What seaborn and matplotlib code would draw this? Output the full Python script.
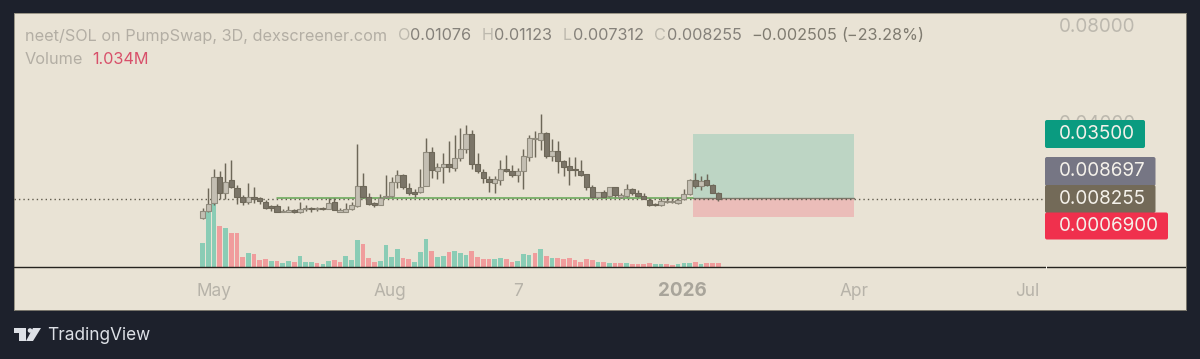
import numpy as np
import pandas as pd
import matplotlib
matplotlib.use("Agg")
import matplotlib.pyplot as plt
import matplotlib.dates as mdates
from matplotlib.patches import Rectangle, Polygon, FancyBboxPatch, Circle
from matplotlib.transforms import IdentityTransform
import seaborn as sns

# ---- data (prices in thousandths of SOL, volume in millions) ----
first_date = "2025-04-25"
open_m = [0.32,3.32,6.47,17.45,10.59,16.08,12.65,8.94,7.16,9.22,8.67,7.16,5.24,5.38,3.05,3.05,3.59,3.05,4.14,4.42,4.14,4.42,4.14,7.02,2.91,3.05,4.28,5.38,13.61,9.22,6.47,5.94,8.94,9.49,15.39,18.27,12.65,11.28,11.28,13.61,27.60,19.92,21.43,22.52,21.15,25.27,28.83,34.87,22.52,19.51,16.49,14.98,16.08,20.61,19.78,18.13,19.92,25.68,32.95,32.54,35.56,25.95,28.15,23.76,21.84,20.47,19.78,18.41,13.33,8.94,11.00,9.63,13.06,8.94,9.49,12.24,10.86,9.49,7.85,6.34,5.79,7.16,7.16,6.47,8.12,10.18,16.08,13.61,16.08,14.02,10.76]
close_m = [3.46,6.20,17.45,10.59,15.39,13.06,9.22,7.16,8.94,8.12,7.43,4.69,4.42,2.91,3.46,3.59,2.77,4.01,4.69,4.14,4.42,4.14,6.75,3.73,3.87,4.01,5.65,13.61,8.94,6.20,5.94,8.53,9.49,15.25,18.27,13.06,10.59,10.18,13.33,27.60,20.19,21.56,22.52,21.56,25.27,28.83,34.87,22.52,19.78,16.76,15.12,16.35,20.61,19.92,18.13,19.78,25.95,33.22,33.50,35.56,25.95,28.15,23.76,21.56,20.19,20.19,18.27,13.33,8.94,11.00,9.22,13.06,9.90,9.90,12.24,10.59,9.49,8.12,5.65,5.79,7.30,7.43,7.43,7.85,10.18,16.08,13.61,15.80,14.02,10.86,8.255]
high_m = [4.42,12.65,20.47,19.92,22.93,24.31,14.02,9.90,14.70,13.33,8.94,7.85,5.79,6.20,4.01,5.38,4.01,7.16,5.65,5.10,5.10,4.83,8.53,8.53,4.42,6.75,7.16,30.89,18.82,10.59,7.16,10.18,18.27,17.17,20.19,18.55,14.98,12.24,20.47,33.22,29.52,23.21,27.32,32.26,34.59,37.34,38.71,36.65,27.05,20.47,17.72,17.72,24.31,26.36,22.25,20.88,28.70,34.59,36.24,43.24,35.69,32.81,32.13,24.31,25.40,25.40,24.31,18.55,14.02,11.28,11.96,13.33,13.33,10.59,14.43,12.65,11.96,10.59,8.53,6.75,8.53,8.94,8.53,8.53,12.24,16.35,19.10,17.72,18.55,14.43,11.23]
low_m = [0.05,3.05,5.79,8.12,8.12,12.65,6.20,5.79,6.20,6.47,6.20,4.28,3.46,2.77,2.77,2.77,2.36,2.63,3.32,3.05,3.32,3.73,4.01,3.59,2.77,2.77,3.73,5.10,8.53,5.79,5.10,5.79,8.53,8.94,12.65,12.24,9.90,9.22,10.86,13.61,16.76,16.63,14.98,19.51,19.92,24.03,27.05,20.47,19.10,14.70,11.28,10.86,14.02,19.51,17.17,15.39,12.24,24.03,25.40,28.42,25.00,23.89,19.10,17.72,14.02,17.72,17.72,11.96,8.94,8.81,8.94,9.22,9.22,8.53,8.94,9.90,8.94,8.12,5.38,5.38,5.51,6.75,6.47,6.20,7.85,9.90,12.65,11.96,13.61,10.59,7.31]
volume_m = [7.0,16.8,18.8,12.3,11.6,10.0,10.0,3.0,4.0,3.9,2.1,2.3,1.7,1.8,1.1,1.7,1.5,3.2,1.5,1.3,1.1,0.9,1.8,1.9,1.5,3.1,2.0,8.1,6.8,2.7,1.5,1.8,6.5,2.8,5.2,2.6,2.2,1.3,4.4,8.3,4.6,2.8,3.3,4.4,4.8,4.0,3.6,4.8,3.0,2.4,2.4,2.3,2.6,2.2,1.5,1.7,3.8,3.6,4.0,5.2,3.2,2.7,2.7,2.2,2.6,2.0,1.5,2.4,2.0,1.5,1.3,1.1,1.2,1.2,1.1,0.9,0.7,0.7,1.1,0.7,0.7,0.7,0.6,0.7,1.2,1.2,1.4,0.8,1.0,1.0,1.034]
volume_side = list("GGGRGRRRGRRRGRGGRGGGRGGRRGGGRRRGGGGRRGGGRGGRGGGRRRRGGRRGGGRGRGRRRRRRRGRGRRGRRRRGGRRGGGRGRRR")
tick_dates = ["2025-05-01", "2025-08-01", "2025-10-07", "2026-01-01", "2026-04-01", "2026-07-01"]
tick_texts = ["May", "Aug", "7", "2026", "Apr", "Jul"]
y_ticks = [0.08, 0.04]
take_profit, entry, stop, last_price = 0.035, 0.008697, 0.00069, 0.008255
box_start, box_end = "2026-01-07", "2026-04-01"
level_start = "2025-06-03"

BG = "#1d212c"
PANEL = "#e9e3d5"
W, H = 1200, 359
FONT = ["Inter", "DejaVu Sans"]

sns.set_theme(style="white")
plt.rcParams["font.family"] = FONT

n = len(open_m)
dates = pd.date_range(first_date, periods=n, freq="3D")
df = pd.DataFrame({
    "num": mdates.date2num(dates),
    "open": np.array(open_m) * 1e-3, "close": np.array(close_m) * 1e-3,
    "high": np.array(high_m) * 1e-3, "low": np.array(low_m) * 1e-3,
    "volume": volume_m, "side": volume_side[:n],
})

fig = plt.figure(figsize=(W / 100, H / 100), dpi=100, facecolor=BG)
L, R, T, B = 14, 1186, 13, 310
rect = [L / W, 1 - B / H, (R - L) / W, (B - T) / H]
ax_v = fig.add_axes(rect, zorder=1, facecolor=PANEL)
ax = fig.add_axes(rect, zorder=2, facecolor="none")

d0 = mdates.date2num(pd.Timestamp("2025-05-01"))
xlim = (d0 - 104.7, d0 + 508.9)

# volume pane
sns.barplot(data=df, x="num", y="volume", hue="side", hue_order=["G", "R"],
            palette={"G": "#8accb5", "R": "#f09c9c"}, native_scale=True, dodge=False,
            width=0.82, errorbar=None, legend=False, ax=ax_v, linewidth=0, saturation=1)
ax_v.set_xlim(xlim)
ax_v.set_ylim(-13.05, 76.1)
ax_v.set_xlabel(""); ax_v.set_ylabel("")
ax_v.set_xticks([]); ax_v.set_yticks([])
ax_v.axhline(0, color="#26241f", lw=1.0, zorder=6)
for s in ax_v.spines.values():
    s.set_color("#8a8678"); s.set_linewidth(0.6)

# position box
b0, b1 = mdates.date2num(pd.Timestamp(box_start)), mdates.date2num(pd.Timestamp(box_end))
ax.add_patch(Rectangle((b0, entry), b1 - b0, take_profit - entry, fc="#bdd5c4", ec="none", zorder=1))
ax.add_patch(Rectangle((b0, stop), b1 - b0, entry - stop, fc="#ebbdb9", ec="none", zorder=1))
ax.plot([b0, b1], [entry, entry], color="#7d796b", lw=1.0, zorder=1.5)
ax.plot([mdates.date2num(pd.Timestamp(level_start)), b0], [entry, entry], color="#62a653", lw=1.1, zorder=1.5)
ax.plot([xlim[0], d0 + 434], [last_price, last_price], color="#5f5a4c", lw=1.0, ls=(0, (1, 2.2)), zorder=1.6)

# candles
up = df["close"] >= df["open"]
ax.vlines(df["num"], df["low"], df["high"], color="#6d6758", lw=1.05, zorder=3)
lo = df[["open", "close"]].min(axis=1)
hi = df[["open", "close"]].max(axis=1)
ax.bar(df["num"][up], (hi - lo)[up], bottom=lo[up], width=2.75, color="#c4bfb3", edgecolor="#908b7d", linewidth=0.8, zorder=4)
ax.bar(df["num"][~up], (hi - lo)[~up], bottom=lo[~up], width=2.75, color="#7b7568", edgecolor="#6d6758", linewidth=0.8, zorder=4)

ax.set_xlim(xlim)
k = 0.0004115
ax.set_ylim(last_price - (B - 199) * k, last_price + (199 - T) * k)
ax.set_xticks([mdates.date2num(pd.Timestamp(d)) for d in tick_dates], tick_texts)
ax.tick_params(axis="x", length=0, pad=-13.5, labelsize=12.4, labelcolor="#b7b3a9")
for lab, txt in zip(ax.get_xticklabels(), tick_texts):
    lab.set_va("center")
    if txt == "2026":
        lab.set_fontweight("bold"); lab.set_color("#a9a59b"); lab.set_fontsize(13.6)
ax.yaxis.tick_right()
ax.set_yticks(y_ticks, ["0.08000", "0.04000"])
ax.tick_params(axis="y", length=0, pad=-91.5, labelsize=13.6, labelcolor="#bcb8ae")
for s in ax.spines.values():
    s.set_visible(False)
ax.grid(False)

# price tags and texts, placed in figure pixels
def px_rect(x0, y0, x1, y1, color, z=5):
    fig.add_artist(FancyBboxPatch((x0, H - y1), x1 - x0, y1 - y0, boxstyle="round,pad=0,rounding_size=2",
                                  fc=color, ec="none", transform=IdentityTransform(), zorder=z))

def px_text(x, y, s, color, size, weight="normal", z=7):
    return fig.text(x / W, 1 - y / H, s, color=color, fontsize=size, fontweight=weight, va="center", ha="left", zorder=z)

fig_tags = [(120, 148, 1145, "#0a9b80", "0.03500"), (157, 186, 1155.5, "#767684", "0.008697"),
            (185, 213, 1155.5, "#736a58", "0.008255"), (212.5, 239.5, 1168, "#f0304d", "0.0006900")]
for y0, y1, x1, c, s in fig_tags:
    px_rect(1045, y0, x1, y1, c)
    px_text(1059, (y0 + y1) / 2, s, "#f4f1ea", 13.6)
fig.add_artist(Rectangle((1045.5, H - 269), 1, 3, fc="#f5f1e8", ec="none", transform=IdentityTransform(), zorder=6))

# header
grey = "#b3aea4"
px_text(25, 36, "neet/SOL on PumpSwap, 3D, dexscreener.com", grey, 11.7)
vals = [(398, 410, "O", "0.01076"), (482, 494, "H", "0.01123"), (563, 573, "L", "0.007312"), (654, 667, "C", "0.008255")]
for xa, xv, a, v in vals:
    px_text(xa, 36, a, "#bdb9ae", 11.7)
    px_text(xv, 36, v, "#85817a", 11.7)
px_text(751, 36, "\u22120.002505", "#7f7b70", 11.7)
px_text(841, 36, "(\u221223.28%)", "#7f7b70", 11.7)
px_text(25, 60, "Volume", grey, 11.7)
px_text(92, 60, "1.034M", "#d8506a", 11.7)

# footer
px_text(47, 336, "TradingView", "#dde0e6", 12.4)
logo = [[(14, 328), (26, 328), (26, 341), (18.5, 341), (18.5, 333), (14, 333)],
        [(33, 328), (41, 328), (33, 341), (26, 341)]]
for pts in logo:
    fig.add_artist(Polygon([(x, H - y) for x, y in pts], closed=True, fc="#dde0e6", ec="none", transform=IdentityTransform()))
fig.add_artist(Circle((30, H - 330.5), 2.3, fc="#dde0e6", ec="none", transform=IdentityTransform()))

fig.savefig("out.png", dpi=100, facecolor=BG)
